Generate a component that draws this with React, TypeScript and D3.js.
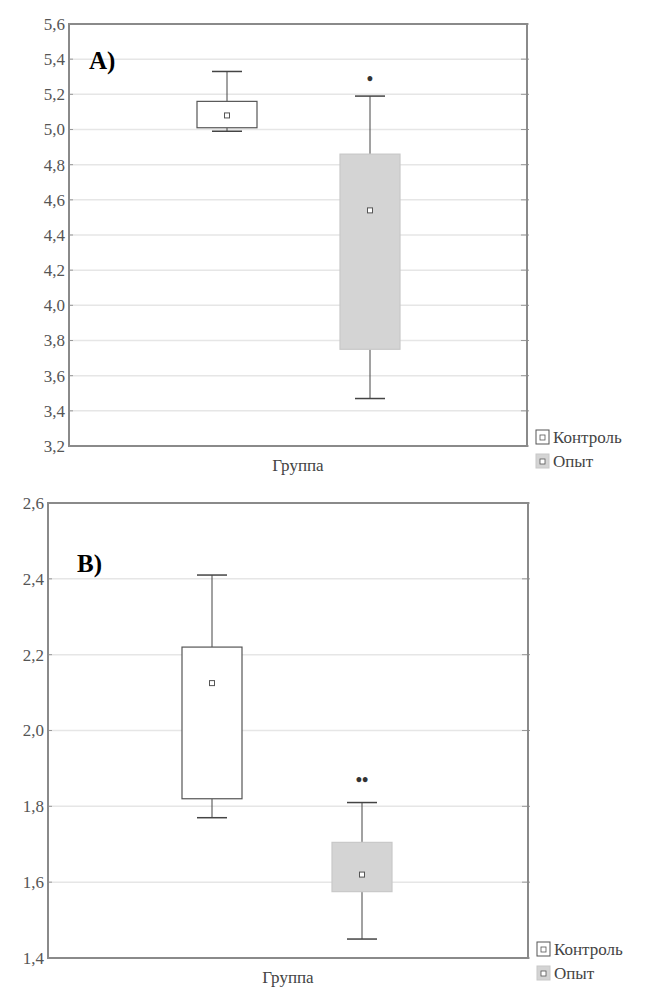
import * as d3 from "d3";

// Panel A
const groups = ["Контроль", "Опыт"];
const ticksA = [3.2, 3.4, 3.6, 3.8, 4.0, 4.2, 4.4, 4.6, 4.8, 5.0, 5.2, 5.4, 5.6];
const meanA = [5.08, 4.54];
const q1A = [5.01, 3.75];
const q3A = [5.16, 4.86];
const minA = [4.99, 3.47];
const maxA = [5.33, 5.19];
const markA = ["", "*"];
const markPosA = [0, 5.29];

// Panel B
const ticksB = [1.4, 1.6, 1.8, 2.0, 2.2, 2.4, 2.6];
const meanB = [2.125, 1.62];
const q1B = [1.82, 1.575];
const q3B = [2.22, 1.705];
const minB = [1.77, 1.45];
const maxB = [2.41, 1.81];
const markB = ["", "**"];
const markPosB = [0, 1.87];

const fills = ["#ffffff", "#d4d4d4"];
const font = "Liberation Serif";

type PanelProps = {
  top: number; bottom: number; left: number; right: number;
  ticks: number[]; mean: number[]; q1: number[]; q3: number[];
  min: number[]; max: number[]; mark: string[]; markPos: number[];
  label: string; labelX: number; labelY: number; centers: number[];
};

function Panel(p: PanelProps) {
  const y = d3.scaleLinear()
    .domain([p.ticks[0], p.ticks[p.ticks.length - 1]])
    .range([p.bottom, p.top]);
  const x = d3.scaleOrdinal<string, number>().domain(groups).range(p.centers);
  const boxW = 60;
  const capW = 30;
  const fmt = (v: number) => d3.format(".1f")(v).replace(".", ",");
  return (
    <g>
      {p.ticks.map((t) => (
        <g key={t}>
          <line x1={p.left} x2={p.right} y1={y(t)} y2={y(t)} stroke="#e6e6e6" strokeWidth={1.5} />
          <line x1={p.left} x2={p.left + 4} y1={y(t)} y2={y(t)} stroke="#999" />
          <line x1={p.right - 6} x2={p.right + 2} y1={y(t)} y2={y(t)} stroke="#999" />
          <text x={p.left - 4} y={y(t)} dy="0.35em" textAnchor="end" fontSize={17} fill="#555" fontFamily={font}>{fmt(t)}</text>
        </g>
      ))}
      <rect x={p.left} y={p.top} width={p.right - p.left} height={p.bottom - p.top} fill="none" stroke="#8a8a8a" strokeWidth={2} />
      <text x={p.labelX} y={p.labelY} fontSize={25} fontWeight="bold" fontFamily={font} fill="#000">{p.label}</text>
      {groups.map((g, i) => {
        const cx = x(g);
        return (
          <g key={g}>
            <line x1={cx} x2={cx} y1={y(p.max[i])} y2={y(p.q3[i])} stroke="#444" />
            <line x1={cx} x2={cx} y1={y(p.q1[i])} y2={y(p.min[i])} stroke="#444" />
            <line x1={cx - capW / 2} x2={cx + capW / 2} y1={y(p.max[i])} y2={y(p.max[i])} stroke="#444" strokeWidth={1.5} />
            <line x1={cx - capW / 2} x2={cx + capW / 2} y1={y(p.min[i])} y2={y(p.min[i])} stroke="#444" strokeWidth={1.5} />
            <rect x={cx - boxW / 2} y={y(p.q3[i])} width={boxW} height={y(p.q1[i]) - y(p.q3[i])}
              fill={fills[i]} stroke={i === 0 ? "#555" : "#c8c8c8"} strokeWidth={1.2} />
            <rect x={cx - 2.5} y={y(p.mean[i]) - 2.5} width={5} height={5} fill="#fff" stroke="#555" />
            {p.mark[i] && (
              <text x={cx} y={y(p.markPos[i])} dy="0.35em" textAnchor="middle" fontSize={18} fontWeight="bold" fill="#333" fontFamily={font}>
                {p.mark[i].split("").map(() => "•").join("")}
              </text>
            )}
          </g>
        );
      })}
      <text x={(p.left + p.right) / 2} y={p.bottom + 25} textAnchor="middle" fontSize={17} fill="#444" fontFamily={font}>Группа</text>
      {groups.map((g, i) => (
        <g key={g} transform={`translate(${p.right + 9},${p.bottom - 9 + i * 24})`}>
          <rect x={0} y={-7} width={13} height={14} fill={fills[i]} stroke={i === 0 ? "#555" : "#c8c8c8"} />
          <rect x={4} y={-2} width={5} height={5} fill="#fff" stroke="#555" strokeWidth={0.8} />
          <text x={17} y={0} dy="0.35em" fontSize={17} fill="#444" fontFamily={font}>{g}</text>
        </g>
      ))}
    </g>
  );
}

export default function App() {
  return (
    <svg width={647} height={992} style={{ position: "absolute", left: 0, top: 0, background: "#fff" }}>
      <Panel top={24} bottom={446} left={69} right={527}
        ticks={ticksA} mean={meanA} q1={q1A} q3={q3A} min={minA} max={maxA}
        mark={markA} markPos={markPosA} label="A)" labelX={89} labelY={69} centers={[227, 370]} />
      <Panel top={503} bottom={958} left={48} right={528}
        ticks={ticksB} mean={meanB} q1={q1B} q3={q3B} min={minB} max={maxB}
        mark={markB} markPos={markPosB} label="B)" labelX={77} labelY={572} centers={[212, 362]} />
    </svg>
  );
}
